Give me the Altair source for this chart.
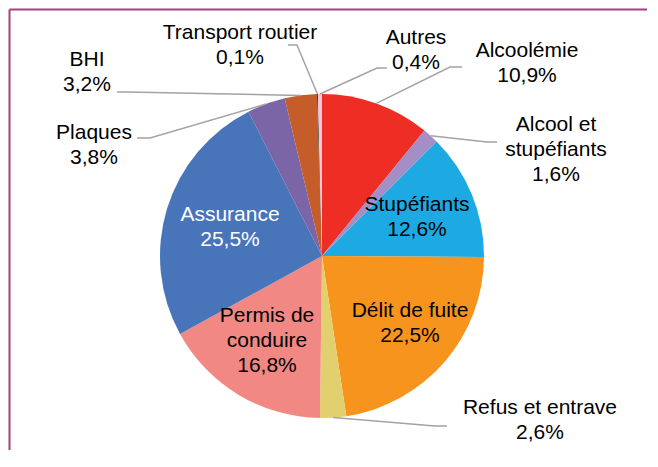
import math
import altair as alt
import pandas as pd

# ---- data ----
categories = ["Alcoolémie", "Alcool et stupéfiants", "Stupéfiants", "Délit de fuite",
              "Refus et entrave", "Permis de conduire", "Assurance", "Plaques", "BHI",
              "Transport routier", "Autres"]
values = [10.9, 1.6, 12.6, 22.5, 2.6, 16.8, 25.5, 3.8, 3.2, 0.1, 0.4]
display_names = ["Alcoolémie", "Alcool et\nstupéfiants", "Stupéfiants", "Délit de fuite",
                 "Refus et entrave", "Permis de\nconduire", "Assurance", "Plaques", "BHI",
                 "Transport routier", "Autres"]
colors = ["#EE2E24", "#A58DC5", "#1DAAE2", "#F7941E", "#E2CF6E", "#F28884",
          "#4874B9", "#7B65A6", "#C55D2A", "#3A3A3A", "#F1C6D6"]

# ---- layout (page pixel coordinates) ----
OFF = 8
W, H = 642, 445
CX, CY, R = 322, 256, 162
# centre of the first line of each label
label_pos = {
    "Alcoolémie": (527, 51), "Alcool et stupéfiants": (556, 125), "Stupéfiants": (417, 205),
    "Délit de fuite": (410, 311), "Refus et entrave": (540, 408), "Permis de conduire": (267, 316),
    "Assurance": (230, 215), "Plaques": (94, 133), "BHI": (87, 60),
    "Transport routier": (240, 33), "Autres": (416, 38),
}
text_colors = {"Assurance": "white"}
leaders = {  # elbow, end
    "Transport routier": [(297, 45), (288, 45)],
    "Autres": [(377, 68), (387, 68)],
    "Alcoolémie": [(450, 67), (462, 67)],
    "Alcool et stupéfiants": [(487, 142), (497, 142)],
    "Refus et entrave": [(435, 426), (447, 426)],
    "BHI": [(127, 92), (117, 92)],
    "Plaques": [(150, 138), (137, 138)],
}
frame_segments = {"top": [(9.5, 9.5), (647, 9.5)], "left": [(9.5, 9.5), (9.5, 450)]}

total = sum(values)
pie_df = pd.DataFrame({"cat": categories, "value": values, "order": list(range(len(values)))})

lab_rows = []
for c, v, n in zip(categories, values, display_names):
    x, y = label_pos[c]
    lab_rows.append({"cat": c, "text": n + "\n" + f"{v:.1f}".replace(".", ",") + "%",
                     "x": x - OFF, "y": y - OFF, "tcol": text_colors.get(c, "black")})
lab_df = pd.DataFrame(lab_rows)

line_rows = []
cum = 0.0
mids = {}
for c, v in zip(categories, values):
    mids[c] = (cum + v / 2) / total * 2 * math.pi
    cum += v
for c, pts in leaders.items():
    a = mids[c]
    sx, sy = CX + R * math.sin(a), CY - R * math.cos(a)
    allpts = [(sx, sy)] + pts
    for i, (px, py) in enumerate(allpts):
        line_rows.append({"cat": c, "i": i, "x": px - OFF, "y": py - OFF})
line_df = pd.DataFrame(line_rows)

frame_rows = []
for k, pts in frame_segments.items():
    for i, (px, py) in enumerate(pts):
        frame_rows.append({"seg": k, "i": i, "x": px - OFF, "y": py - OFF})
frame_df = pd.DataFrame(frame_rows)

xs = alt.Scale(domain=[0, W], range=[0, W], nice=False, zero=False)
ys = alt.Scale(domain=[0, H], range=[0, H], nice=False, zero=False)

pie = alt.Chart(pie_df).mark_arc(outerRadius=R).encode(
    theta=alt.Theta("value:Q", stack=True),
    order=alt.Order("order:Q"),
    color=alt.Color("cat:N", scale=alt.Scale(domain=categories, range=colors), legend=None),
    x=alt.value(CX - OFF), y=alt.value(CY - OFF),
)

lines = alt.Chart(line_df).mark_line(color="#A3A3A3", strokeWidth=1.5).encode(
    x=alt.X("x:Q", scale=xs, axis=None),
    y=alt.Y("y:Q", scale=ys, axis=None),
    detail="cat:N",
    order="i:Q",
)

labels = alt.Chart(lab_df).mark_text(
    font="Liberation Sans", fontSize=21, lineBreak="\n", lineHeight=25,
    align="center", baseline="middle",
).encode(
    x=alt.X("x:Q", scale=xs, axis=None),
    y=alt.Y("y:Q", scale=ys, axis=None),
    text="text:N",
    color=alt.Color("tcol:N", scale=None),
)

frame = alt.Chart(frame_df).mark_line(color="#A3407E", strokeWidth=2).encode(
    x=alt.X("x:Q", scale=xs, axis=None),
    y=alt.Y("y:Q", scale=ys, axis=None),
    detail="seg:N",
    order="i:Q",
)

chart = alt.layer(pie, lines, labels, frame).properties(
    width=W, height=H, autosize=alt.AutoSizeParams(type="none"), padding=0,
    background="white",
).configure_view(stroke=None, strokeWidth=0)

chart.save("out.html", embed_options={"renderer": "svg", "actions": False})
